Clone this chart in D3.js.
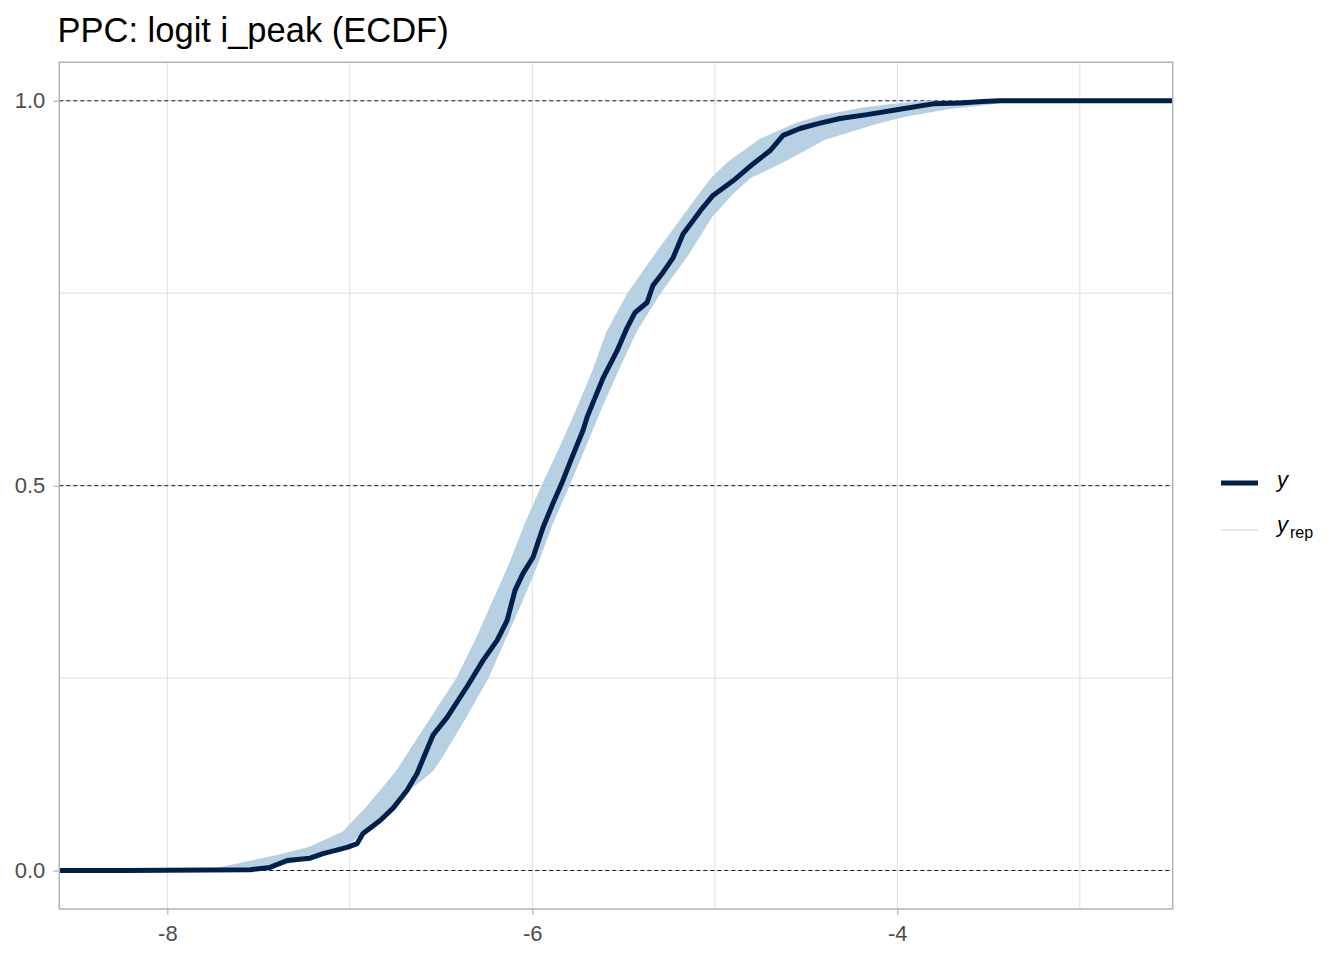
<!DOCTYPE html>
<html><head><meta charset="utf-8">
<script src="https://cdn.jsdelivr.net/npm/d3@7"></script>
<style>
body{margin:0;background:#fff}
svg{display:block}
text{font-family:"Liberation Sans",Arial,sans-serif}
</style>
</head><body>
<svg id="chart" width="1344" height="960"></svg>
<script>
// ---------- data ----------
const title = "PPC: logit i_peak (ECDF)";
const xTicks = [-8, -6, -4];
const xTickLabels = ["-8", "-6", "-4"];
const xMinor = [-7, -5, -3];
const yTicks = [0, 0.5, 1];
const yTickLabels = ["0.0", "0.5", "1.0"];
const yMinor = [0.25, 0.75];
const refLines = [0, 0.5, 1];
const xDomain = [-8.592, -2.491];
const yDomain = [-0.05, 1.05];

// observed ECDF (y)
const obsX = [-8.592, -8.237, -7.546, -7.437, -7.344, -7.218, -7.147, -7.015, -6.960, -6.928, -6.834, -6.763, -6.687, -6.632,
  -6.544, -6.467, -6.352, -6.270, -6.193, -6.138, -6.095, -6.051, -5.996, -5.941, -5.887, -5.837, -5.782, -5.722,
  -5.700, -5.612, -5.536, -5.481, -5.437, -5.371, -5.339, -5.284, -5.229, -5.174, -5.070, -5.010, -4.900, -4.791,
  -4.698, -4.626, -4.533, -4.440, -4.314, -4.166, -3.986, -3.805, -3.657, -3.531, -3.438, -2.491];
const obsF = [0, 0, 0.001, 0.004, 0.013, 0.016, 0.022, 0.030, 0.035, 0.048, 0.065, 0.081, 0.104, 0.126,
  0.176, 0.199, 0.241, 0.273, 0.299, 0.325, 0.364, 0.386, 0.407, 0.446, 0.477, 0.504, 0.537, 0.572,
  0.589, 0.640, 0.675, 0.705, 0.725, 0.738, 0.760, 0.777, 0.796, 0.827, 0.860, 0.877, 0.896, 0.918,
  0.935, 0.955, 0.964, 0.970, 0.977, 0.982, 0.989, 0.996, 0.997, 0.999, 1.0, 1.0];

// replicated ECDFs (y_rep): envelope of the draws, x at each cumulative level
const repF = [0, 0.005, 0.01, 0.02, 0.03, 0.05, 0.08, 0.10, 0.13, 0.15, 0.20, 0.25, 0.30, 0.35, 0.40, 0.45,
  0.50, 0.55, 0.60, 0.65, 0.70, 0.75, 0.80, 0.85, 0.88, 0.90, 0.92, 0.95, 0.97, 0.98, 0.99, 0.995, 1.0];
const repLeftX = [-7.782, -7.684, -7.585, -7.388, -7.224, -7.037, -6.917, -6.845, -6.741, -6.687, -6.550, -6.413,
  -6.309, -6.215, -6.122, -6.040, -5.947, -5.848, -5.755, -5.667, -5.591, -5.476, -5.328, -5.174, -5.081, -5.015,
  -4.928, -4.752, -4.560, -4.424, -4.204, -4.040, -3.821];
const repRightX = [-7.492, -7.410, -7.328, -7.174, -7.026, -6.933, -6.769, -6.698, -6.544, -6.489, -6.363, -6.243,
  -6.150, -6.056, -5.969, -5.892, -5.799, -5.711, -5.624, -5.530, -5.432, -5.300, -5.147, -5.015, -4.900, -4.807,
  -4.632, -4.396, -4.122, -3.958, -3.711, -3.519, -3.366];

// ---------- drawing ----------
const svg = d3.select("#chart");
const L = 59.3, R = 1172.7, T = 62.3, B = 909;
const x = d3.scaleLinear().domain(xDomain).range([L, R]);
const y = d3.scaleLinear().domain(yDomain).range([B, T]);
const darkC = "#011f4b", lightC = "#b3cde0";

svg.append("rect").attr("width", 1344).attr("height", 960).attr("fill", "#fff");

const clip = svg.append("defs").append("clipPath").attr("id", "pc");
clip.append("rect").attr("x", L).attr("y", T).attr("width", R - L).attr("height", B - T);

const grid = svg.append("g");
xTicks.concat(xMinor).forEach(v => grid.append("line")
  .attr("x1", x(v)).attr("x2", x(v)).attr("y1", T).attr("y2", B)
  .attr("stroke", "#dedede").attr("stroke-width", 1));
yTicks.concat(yMinor).forEach(v => grid.append("line")
  .attr("x1", L).attr("x2", R).attr("y1", y(v)).attr("y2", y(v))
  .attr("stroke", "#dedede").attr("stroke-width", 1));

const plot = svg.append("g").attr("clip-path", "url(#pc)");

refLines.forEach(v => plot.append("line")
  .attr("x1", L).attr("x2", R).attr("y1", y(v)).attr("y2", y(v))
  .attr("stroke", darkC).attr("stroke-width", 1).attr("stroke-dasharray", "4,3"));

const repRows = repF.map((f, i) => ({f, lo: repLeftX[i], hi: repRightX[i]}));
plot.append("path").datum(repRows)
  .attr("d", d3.area().y(d => y(d.f)).x0(d => x(d.lo)).x1(d => x(d.hi)))
  .attr("fill", lightC).attr("opacity", 0.95);
[repLeftX, repRightX].forEach(arr => {
  plot.append("path").datum(repF.map((f, i) => [arr[i], f]))
    .attr("d", d3.line().x(d => x(d[0])).y(d => y(d[1])))
    .attr("fill", "none").attr("stroke", lightC).attr("stroke-width", 1.2).attr("opacity", 0.8);
});

plot.append("path").datum(obsX.map((v, i) => [v, obsF[i]]))
  .attr("d", d3.line().x(d => x(d[0])).y(d => y(d[1])))
  .attr("fill", "none").attr("stroke", darkC).attr("stroke-width", 5)
  .attr("stroke-linejoin", "round");

// panel border
svg.append("rect").attr("x", L).attr("y", T).attr("width", R - L).attr("height", B - T)
  .attr("fill", "none").attr("stroke", "#b3b3b3").attr("stroke-width", 1.5);

// axes
const xAxis = svg.append("g").attr("transform", `translate(0,${B})`)
  .call(d3.axisBottom(x).tickValues(xTicks).tickFormat((d, i) => xTickLabels[i]).tickSize(6).tickPadding(6));
const yAxis = svg.append("g").attr("transform", `translate(${L},0)`)
  .call(d3.axisLeft(y).tickValues(yTicks).tickFormat((d, i) => yTickLabels[i]).tickSize(6).tickPadding(8));
[xAxis, yAxis].forEach(a => {
  a.select(".domain").remove();
  a.selectAll("line").attr("stroke", "#b3b3b3").attr("stroke-width", 1.2);
  a.selectAll("text").attr("fill", "#4d4d4d").style("font-size", "22px")
    .style("font-family", "'Liberation Sans', Arial, sans-serif");
});
xAxis.selectAll("text").attr("dy", "0.93em");

// title
svg.append("text").attr("x", 57.5).attr("y", 42).text(title)
  .style("font-size", "34.5px").attr("fill", "#000");

// legend
const lg = svg.append("g");
lg.append("line").attr("x1", 1221).attr("x2", 1258).attr("y1", 483).attr("y2", 483)
  .attr("stroke", darkC).attr("stroke-width", 5);
lg.append("text").attr("x", 1277).attr("y", 487).text("y")
  .style("font-size", "22px").style("font-style", "italic").attr("fill", "#000");
lg.append("line").attr("x1", 1221).attr("x2", 1258).attr("y1", 530).attr("y2", 530)
  .attr("stroke", lightC).attr("stroke-width", 1).attr("opacity", 0.75);
const t2 = lg.append("text").attr("x", 1277).attr("y", 532).attr("fill", "#000");
t2.append("tspan").text("y").style("font-size", "22px").style("font-style", "italic");
t2.append("tspan").text("rep").attr("dx", 2).attr("dy", 6).style("font-size", "16px");
</script>
</body></html>
